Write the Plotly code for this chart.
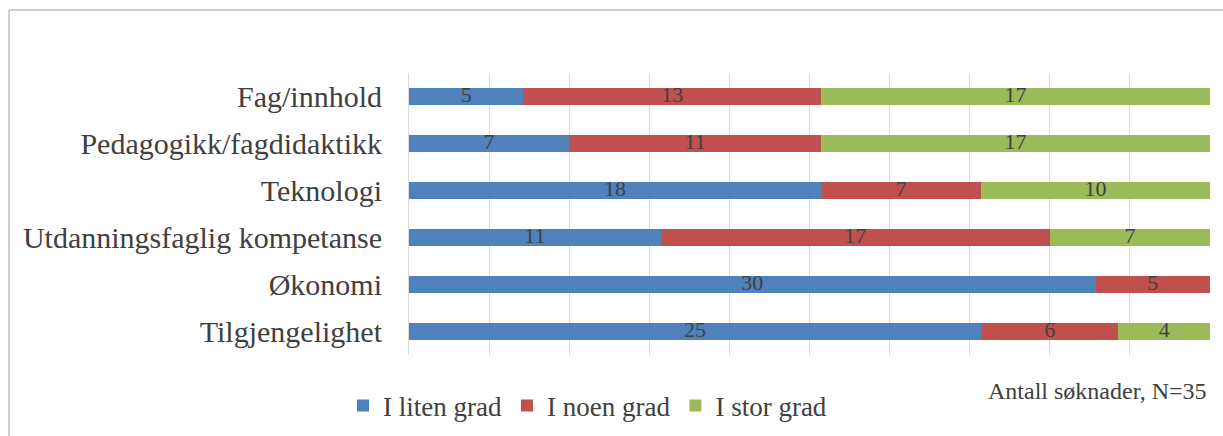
import plotly.graph_objects as go

categories = ["Fag/innhold", "Pedagogikk/fagdidaktikk", "Teknologi",
              "Utdanningsfaglig kompetanse", "Økonomi", "Tilgjengelighet"]
liten = [5, 7, 18, 11, 30, 25]
noen = [13, 11, 7, 17, 5, 6]
stor = [17, 17, 10, 7, 0, 4]
series_names = ["I liten grad", "I noen grad", "I stor grad"]
colors = ["#4F81BD", "#C0504D", "#9BBB59"]
N_total = 35
note = "Antall søknader, N=35"

FONT = "Liberation Serif"
TXT = "#404040"

fig = go.Figure()
series = [liten, noen, stor]
for name, vals, col in zip(series_names, series, colors):
    fig.add_trace(go.Bar(
        y=categories, x=vals, name=name, orientation="h",
        marker=dict(color=col, line=dict(width=0)),
        hoverinfo="x+y+name",
    ))

# data labels at the middle of each segment
base = [0] * len(categories)
for vals in series:
    xs, ys, ts = [], [], []
    for i, v in enumerate(vals):
        if v:
            xs.append(base[i] + v / 2)
            ys.append(categories[i])
            ts.append(str(v))
        base[i] += v
    fig.add_trace(go.Scatter(
        x=xs, y=ys, text=ts, mode="text", showlegend=False,
        textposition="middle center", hoverinfo="skip",
        textfont=dict(family=FONT, size=22, color=TXT),
    ))

L, R, T, B = 409, 13, 73, 81
W, H = 1223, 436
pw, ph = W - L - R, H - T - B

def px(x):
    return (x - L) / pw

def py(y):
    return (H - B - y) / ph

fig.update_layout(
    barmode="stack",
    bargap=0.62,
    width=W, height=H,
    margin=dict(l=L, r=R, t=T, b=B, pad=0, autoexpand=False),
    paper_bgcolor="white", plot_bgcolor="white",
    font=dict(family=FONT, color=TXT),
    xaxis=dict(range=[0, N_total], dtick=N_total / 10, tick0=0,
               showgrid=True, gridcolor="#D9D9D9", gridwidth=1,
               showticklabels=False, zeroline=False, showline=False,
               fixedrange=True, automargin=False),
    yaxis=dict(categoryorder="array", categoryarray=categories,
               autorange="reversed", showgrid=False, zeroline=False,
               showline=True, linecolor="#D9D9D9", linewidth=1,
               ticks="", ticklabelstandoff=20, automargin=False,
               tickfont=dict(family=FONT, size=30, color=TXT)),
    legend=dict(orientation="h", x=px(343), xanchor="left",
                y=py(406), yanchor="middle",
                font=dict(family=FONT, size=27, color=TXT),
                itemwidth=30, traceorder="normal",
                bgcolor="rgba(0,0,0,0)"),
    shapes=[
        dict(type="line", xref="paper", yref="paper",
             x0=px(9), x1=px(W + 5), y0=py(10), y1=py(10),
             line=dict(color="#BFBFBF", width=1.5)),
        dict(type="line", xref="paper", yref="paper",
             x0=px(9), x1=px(9), y0=py(10), y1=py(H + 5),
             line=dict(color="#BFBFBF", width=1.5)),
    ],
    annotations=[dict(text=note, xref="paper", yref="paper",
                      x=px(1209), y=py(391), xanchor="right", yanchor="middle",
                      showarrow=False,
                      font=dict(family=FONT, size=24, color=TXT))],
)

fig.write_html("out.html")
